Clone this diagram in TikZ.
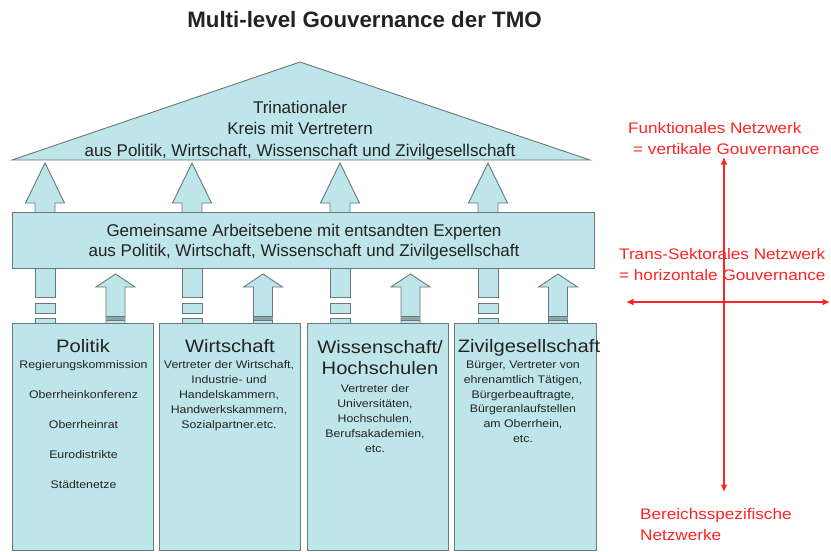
\documentclass[tikz,border=0pt]{standalone}
\usepackage{fontspec}
\setmainfont{Liberation Sans}
\newfontfamily\widefont{Liberation Sans}[FakeStretch=1.12]
\usetikzlibrary{arrows.meta}
\definecolor{boxfill}{RGB}{190,229,233}
\definecolor{boxline}{RGB}{105,120,120}
\definecolor{txt}{RGB}{35,35,35}
\definecolor{redc}{RGB}{255,35,35}
\definecolor{bandfill}{RGB}{140,165,165}
\begin{document}
\begin{tikzpicture}[x=1pt,y=-1pt,
  shapebox/.style={draw=boxline, fill=boxfill, line width=0.9pt, line join=miter},
  colbox/.style={shapebox, rectangle, minimum width=141pt, minimum height=227pt, inner sep=0pt, anchor=north west},
  bigtext/.style={font=\fontsize{17}{21.5}\selectfont, text=txt, align=center, anchor=base, inner sep=0pt},
  coltitle/.style={font=\widefont\fontsize{18}{21.5}\selectfont, text=txt, align=center, anchor=base, inner sep=0pt},
  smalltext/.style={font=\widefont\fontsize{11}{15.1}\selectfont, text=txt, align=center, anchor=base, inner sep=0pt},
  redtext/.style={font=\widefont\fontsize{15.3}{21}\selectfont, text=redc, align=left, anchor=base west, inner sep=0pt},
  redline/.style={draw=redc, line width=1.6pt, {Latex[length=7.5pt,width=7pt]}-{Latex[length=7.5pt,width=7pt]}}
]
\useasboundingbox[fill=white] (0,0) rectangle (831,552);

% title
\node[font=\bfseries\fontsize{22.3}{26}\selectfont, text=txt, anchor=base, inner sep=0pt] (title) at (364.5,27) {Multi-level Gouvernance der TMO};

% upper arrows (middle level -> triangle)
\foreach \c in {45,192,340,488}{
  \draw[shapebox] (\c,163) -- (\c+19.5,203) -- (\c+10,203) -- (\c+10,213) -- (\c-10,213) -- (\c-10,203) -- (\c-19.5,203) -- cycle;
}

% lower pieces (columns -> middle level)
\foreach \c/\d in {45/115.5,192/263,340/410.5,488/558}{
  \draw[shapebox] (\c-10,267) rectangle (\c+10,297);
  \draw[shapebox] (\c-10,303) rectangle (\c+10,313);
  \draw[shapebox] (\c-10,318) rectangle (\c+10,324);
  \draw[shapebox] (\d,274) -- (\d+19.5,287) -- (\d+9.5,287) -- (\d+9.5,324) -- (\d-9.5,324) -- (\d-9.5,287) -- (\d-19.5,287) -- cycle;
  \fill[bandfill] (\d-9.5,316) rectangle (\d+9.5,320.5);
  \draw[boxline, line width=0.8pt] (\d-9.5,316) -- (\d+9.5,316);
  \draw[boxline, line width=0.8pt] (\d-9.5,320.5) -- (\d+9.5,320.5);
}

% triangle
\coordinate (triL) at (12,160);
\coordinate (triT) at (300,62);
\coordinate (triR) at (590,160);
\draw[shapebox] (triL) -- (triT) -- (triR) -- cycle;
\node[bigtext] (tritext) at (300,156) {Trinationaler\\Kreis mit Vertretern\\aus Politik, Wirtschaft, Wissenschaft und Zivilgesellschaft};

% middle box
\node[shapebox, rectangle, minimum width=582pt, minimum height=56pt, inner sep=0pt] (mid) at (303,240) {};
\node[bigtext, font=\fontsize{17}{20}\selectfont] (midtext) at (304,256) {Gemeinsame Arbeitsebene mit entsandten Experten\\aus Politik, Wirtschaft, Wissenschaft und Zivilgesellschaft};

% column boxes
\node[colbox] (pol) at (12,323) {};
\node[colbox] (wir) at (159,323) {};
\node[colbox] (wis) at (307,323) {};
\node[colbox, minimum width=142pt] (ziv) at (454,323) {};

\node[coltitle] (poltitle) at (83,352) {Politik};
\node[smalltext, font=\widefont\fontsize{11}{30}\selectfont] (politems) at (83.5,488) {Regierungskommission\\Oberrheinkonferenz\\Oberrheinrat\\Eurodistrikte\\Städtenetze};

\node[coltitle] (wirtitle) at (230,352) {Wirtschaft};
\node[smalltext, font=\widefont\fontsize{11}{15.2}\selectfont] (wiritems) at (229,428.8) {Vertreter der Wirtschaft,\\Industrie- und\\Handelskammern,\\Handwerkskammern,\\Sozialpartner.etc.};

\node[coltitle] (wistitle) at (380,374.5) {Wissenschaft/\\Hochschulen};
\node[smalltext, font=\widefont\fontsize{11}{15}\selectfont] (wisitems) at (375,452) {Vertreter der\\Universitäten,\\Hochschulen,\\Berufsakademien,\\etc.};

\node[coltitle] (zivtitle) at (529,352) {Zivilgesellschaft};
\node[smalltext, font=\widefont\fontsize{11}{14.8}\selectfont] (zivitems) at (523,442.5) {Bürger, Vertreter von\\ehrenamtlich Tätigen,\\Bürgerbeauftragte,\\Bürgeranlaufstellen\\am Oberrhein,\\etc.};

% red network labels
\node[redtext] (funk) at (628,154.5) {Funktionales Netzwerk\\\hspace*{5pt}= vertikale Gouvernance};
\node[redtext] (trans) at (619,280.5) {Trans-Sektorales Netzwerk\\= horizontale Gouvernance};
\node[redtext] (bereich) at (640,540.5) {Bereichsspezifische\\Netzwerke};

% red axes
\coordinate (vtop) at (724,157);
\coordinate (vbot) at (724,492);
\coordinate (hleft) at (626,302);
\coordinate (hright) at (830,302);
\draw[redline] (vbot) -- (vtop);
\draw[redline] (hleft) -- (hright);
\end{tikzpicture}
\end{document}
